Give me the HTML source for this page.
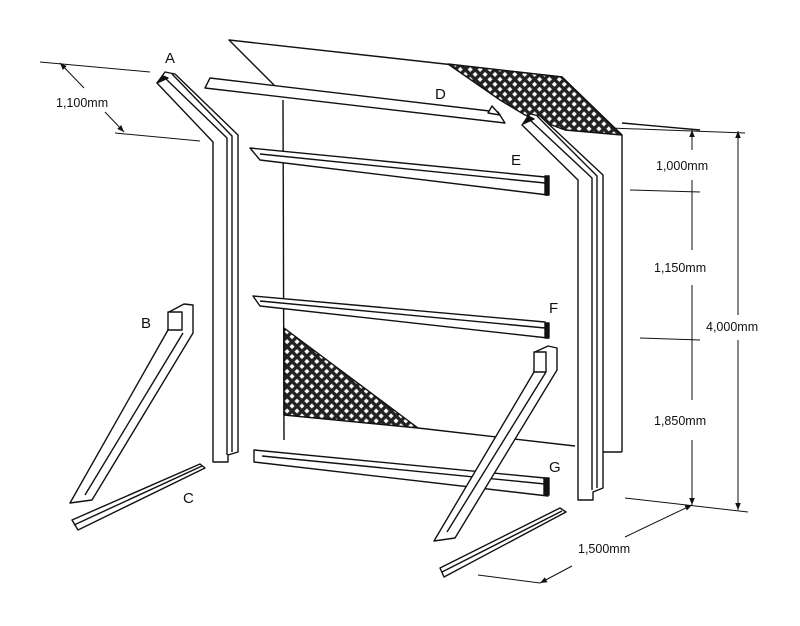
<!DOCTYPE html>
<html><head><meta charset="utf-8"><style>
html,body{margin:0;padding:0;background:#fff;}
svg{display:block;}
text{font-family:"Liberation Sans",sans-serif;fill:#111;}
</style></head><body>
<svg width="800" height="626" viewBox="0 0 800 626" xmlns="http://www.w3.org/2000/svg">
<defs>
<pattern id="mesh" width="7" height="7" patternUnits="userSpaceOnUse" patternTransform="rotate(45)">
<rect width="7" height="7" fill="#222"/><rect x="1.8" y="1.8" width="3.6" height="3.6" fill="#fff"/>
</pattern>
<marker id="ar" viewBox="0 0 10 10" refX="10" refY="5" markerWidth="7" markerHeight="7" orient="auto">
<path d="M0,1 L10,5 L0,9 Z" fill="#111"/>
</marker>
</defs>
<g fill="none" stroke="#111" stroke-width="1.4" stroke-linejoin="round">
<polyline points="275,86 229,40 562,77 622,135"/>
<polygon points="448,64 562,77 622,135 565,130 525,115 500,100" fill="url(#mesh)" stroke="#111"/>
<line x1="622" y1="123" x2="700" y2="130"/>
<line x1="283" y1="100" x2="284" y2="440"/>
<line x1="622" y1="135" x2="622" y2="452"/>
<line x1="600" y1="452" x2="622" y2="452"/>
<polygon points="284,328 418,428 284,415" fill="url(#mesh)"/>
<line x1="418" y1="428" x2="575" y2="446"/>
<polygon points="210,78 498,112 505,123 205,88" fill="#fff"/>
<path d="M488,113 L492,106 L500,115 Z" fill="#fff"/>
<polygon points="250,148 545,177 548,195 260,160" fill="#fff"/>
<line x1="260" y1="154" x2="545" y2="183"/>
<rect x="545" y="176" width="4" height="19" fill="#111"/>
<polygon points="253,296 545,322 548,338 260,306" fill="#fff"/>
<line x1="260" y1="301" x2="545" y2="328"/>
<rect x="545" y="323" width="4" height="15" fill="#111"/>
<polygon points="254,450 545,478 548,496 254,462" fill="#fff"/>
<line x1="262" y1="456" x2="545" y2="484"/>
<rect x="544" y="478" width="5" height="17" fill="#111"/>
<polygon points="157,83 165,72 175,74 238,135 238,452 228,455 228,462 213,462 213,142" fill="#fff"/>
<polyline points="165,78 227,138 227,455"/>
<polyline points="172,74 232,136 232,452"/>
<path d="M157,83 L163,76 L168,78 Z" fill="#111"/>
<polygon points="522,125 530,114 540,116 603,175 603,488 593,492 593,500 578,500 578,180" fill="#fff"/>
<polyline points="530,120 592,178 592,490"/>
<polyline points="537,116 597,176 597,488"/>
<path d="M523,124 L528,116 L534,119 Z" fill="#111"/>
<polygon points="169,312 184,304 193,305 193,333 92,500 70,503 168,330" fill="#fff"/>
<line x1="183" y1="333" x2="85" y2="495"/>
<rect x="168" y="312" width="14" height="18" fill="#fff"/>
<polygon points="72,520 200,464 205,468 78,530" fill="#fff"/>
<line x1="74" y1="525" x2="202" y2="466"/>
<polygon points="535,352 548,346 557,348 557,370 455,538 434,541 534,372" fill="#fff"/>
<line x1="546" y1="372" x2="447" y2="532"/>
<rect x="534" y="352" width="12" height="20" fill="#fff"/>
<polygon points="440,568 560,508 566,512 444,577" fill="#fff"/>
<line x1="442" y1="572" x2="562" y2="511"/>
<g stroke-width="1">
<line x1="40" y1="62" x2="150" y2="72"/>
<line x1="115" y1="133" x2="200" y2="141"/>
<line x1="84" y1="88" x2="60" y2="63" marker-end="url(#ar)"/>
<line x1="105" y1="112" x2="124" y2="132" marker-end="url(#ar)"/>
<line x1="610" y1="128" x2="745" y2="133"/>
<line x1="630" y1="190" x2="700" y2="192"/>
<line x1="640" y1="338" x2="700" y2="340"/>
<line x1="625" y1="498" x2="748" y2="512"/>
<line x1="692" y1="150" x2="692" y2="130" marker-end="url(#ar)"/>
<line x1="692" y1="180" x2="692" y2="250"/>
<line x1="692" y1="285" x2="692" y2="400"/>
<line x1="692" y1="440" x2="692" y2="505" marker-end="url(#ar)"/>
<line x1="738" y1="315" x2="738" y2="131" marker-end="url(#ar)"/>
<line x1="738" y1="340" x2="738" y2="510" marker-end="url(#ar)"/>
<line x1="572" y1="566" x2="540" y2="583" marker-end="url(#ar)"/>
<line x1="625" y1="537" x2="692" y2="505" marker-end="url(#ar)"/>
<line x1="478" y1="575" x2="540" y2="583"/>
</g>
</g>
<g font-size="15">
<text x="165" y="63">A</text>
<text x="141" y="328">B</text>
<text x="183" y="503">C</text>
<text x="435" y="99">D</text>
<text x="511" y="165">E</text>
<text x="549" y="313">F</text>
<text x="549" y="472">G</text>
</g>
<g font-size="12.5">
<text x="56" y="107">1,100mm</text>
<text x="656" y="170">1,000mm</text>
<text x="654" y="272">1,150mm</text>
<text x="706" y="331">4,000mm</text>
<text x="654" y="425">1,850mm</text>
<text x="578" y="553">1,500mm</text>
</g>
</svg>
</body></html>
